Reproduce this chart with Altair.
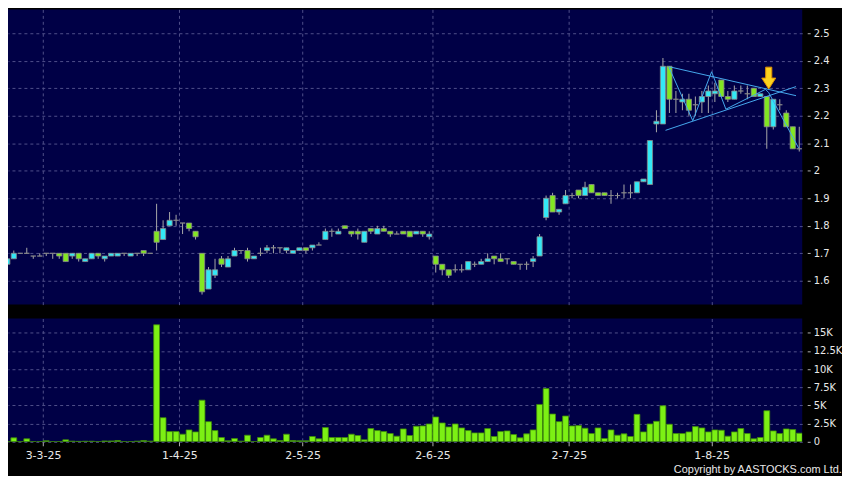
import altair as alt
import pandas as pd

# ---------------- data ----------------
opens = [1.66, 1.68, 1.70, 1.70, 1.69, 1.69, 1.70, 1.70, 1.70, 1.70,
         1.69, 1.70, 1.67, 1.68, 1.70, 1.68, 1.69, 1.69, 1.70, 1.69,
         1.70, 1.71, 1.70, 1.78, 1.75, 1.80, 1.82, 1.81, 1.81, 1.78,
         1.70, 1.57, 1.62, 1.68, 1.65, 1.69, 1.71, 1.71, 1.68, 1.70,
         1.71, 1.72, 1.72, 1.71, 1.70, 1.71, 1.72, 1.72, 1.73, 1.75,
         1.78, 1.77, 1.80, 1.78, 1.78, 1.74, 1.79, 1.77, 1.79, 1.78,
         1.77, 1.78, 1.78, 1.77, 1.78, 1.76, 1.69, 1.66, 1.64, 1.64,
         1.64, 1.64, 1.66, 1.66, 1.67, 1.69, 1.68, 1.68, 1.67, 1.66,
         1.66, 1.67, 1.69, 1.83, 1.91, 1.85, 1.88, 1.91, 1.93, 1.91,
         1.95, 1.92, 1.92, 1.91, 1.91, 1.92, 1.92, 1.92, 1.96, 1.95,
         2.17, 2.17, 2.38, 2.26, 2.25, 2.26, 2.24, 2.25, 2.27, 2.28,
         2.33, 2.27, 2.26, 2.29, 2.28, 2.30, 2.27, 2.27, 2.16, 2.24,
         2.21, 2.16, 2.08]
highs = [1.69, 1.71, 1.70, 1.72, 1.69, 1.70, 1.70, 1.70, 1.70, 1.70,
         1.70, 1.70, 1.68, 1.70, 1.70, 1.69, 1.70, 1.70, 1.70, 1.70,
         1.70, 1.71, 1.70, 1.88, 1.82, 1.85, 1.84, 1.81, 1.81, 1.78,
         1.70, 1.65, 1.68, 1.69, 1.69, 1.72, 1.71, 1.72, 1.69, 1.72,
         1.73, 1.73, 1.72, 1.72, 1.71, 1.72, 1.72, 1.73, 1.74, 1.79,
         1.79, 1.79, 1.80, 1.78, 1.79, 1.78, 1.79, 1.80, 1.80, 1.78,
         1.78, 1.78, 1.78, 1.78, 1.78, 1.78, 1.69, 1.66, 1.64, 1.66,
         1.66, 1.67, 1.67, 1.68, 1.70, 1.69, 1.70, 1.68, 1.67, 1.66,
         1.67, 1.69, 1.77, 1.91, 1.92, 1.86, 1.93, 1.92, 1.93, 1.96,
         1.95, 1.92, 1.92, 1.93, 1.92, 1.95, 1.95, 1.96, 1.97, 2.11,
         2.22, 2.41, 2.38, 2.29, 2.28, 2.28, 2.27, 2.29, 2.31, 2.32,
         2.33, 2.29, 2.31, 2.31, 2.31, 2.30, 2.28, 2.27, 2.26, 2.26,
         2.22, 2.16, 2.16]
lows = [1.66, 1.68, 1.70, 1.70, 1.68, 1.69, 1.69, 1.68, 1.68, 1.67,
        1.68, 1.67, 1.67, 1.68, 1.68, 1.67, 1.69, 1.69, 1.69, 1.69,
        1.69, 1.69, 1.70, 1.71, 1.75, 1.80, 1.80, 1.77, 1.78, 1.75,
        1.55, 1.57, 1.61, 1.65, 1.65, 1.69, 1.70, 1.67, 1.68, 1.69,
        1.70, 1.70, 1.70, 1.70, 1.70, 1.71, 1.70, 1.71, 1.73, 1.75,
        1.76, 1.77, 1.79, 1.76, 1.75, 1.74, 1.77, 1.77, 1.78, 1.76,
        1.77, 1.77, 1.76, 1.77, 1.76, 1.75, 1.63, 1.62, 1.61, 1.63,
        1.63, 1.64, 1.65, 1.66, 1.67, 1.66, 1.67, 1.66, 1.66, 1.64,
        1.64, 1.65, 1.69, 1.82, 1.85, 1.84, 1.88, 1.90, 1.90, 1.91,
        1.92, 1.91, 1.91, 1.88, 1.90, 1.90, 1.90, 1.92, 1.96, 1.95,
        2.14, 2.17, 2.21, 2.21, 2.22, 2.20, 2.20, 2.21, 2.21, 2.25,
        2.27, 2.25, 2.26, 2.28, 2.26, 2.27, 2.27, 2.08, 2.15, 2.22,
        2.16, 2.08, 2.07]
closes = [1.68, 1.70, 1.70, 1.70, 1.69, 1.69, 1.70, 1.70, 1.69, 1.67,
          1.70, 1.68, 1.68, 1.70, 1.69, 1.69, 1.70, 1.70, 1.70, 1.70,
          1.70, 1.70, 1.70, 1.74, 1.79, 1.82, 1.82, 1.81, 1.79, 1.76,
          1.56, 1.64, 1.64, 1.66, 1.68, 1.71, 1.71, 1.68, 1.69, 1.70,
          1.72, 1.72, 1.72, 1.72, 1.71, 1.72, 1.71, 1.73, 1.73, 1.78,
          1.78, 1.78, 1.79, 1.77, 1.77, 1.78, 1.78, 1.79, 1.78, 1.77,
          1.77, 1.77, 1.76, 1.78, 1.77, 1.77, 1.66, 1.64, 1.62, 1.64,
          1.64, 1.67, 1.66, 1.67, 1.68, 1.68, 1.67, 1.68, 1.66, 1.66,
          1.66, 1.68, 1.76, 1.90, 1.85, 1.86, 1.91, 1.91, 1.91, 1.94,
          1.92, 1.91, 1.91, 1.91, 1.91, 1.92, 1.92, 1.96, 1.97, 2.11,
          2.18, 2.38, 2.26, 2.26, 2.26, 2.22, 2.24, 2.27, 2.29, 2.29,
          2.27, 2.26, 2.29, 2.29, 2.28, 2.27, 2.28, 2.16, 2.26, 2.24,
          2.16, 2.08, 2.08]
volumes = [50, 545, 30, 410, 30, 30, 140, 30, 30, 270,
           90, 60, 80, 80, 30, 120, 120, 180, 30, 30,
           90, 180, 90, 16090, 3318, 1409, 1409, 1045, 1636, 1364,
           5727, 2773, 1545, 590, 136, 455, 90, 909, 30, 590,
           909, 410, 180, 1045, 180, 136, 136, 727, 410, 1955,
           590, 590, 590, 1045, 864, 270, 1818, 1545, 1409, 1136,
           773, 1773, 864, 2136, 2182, 2455, 3409, 2591, 2045, 2455,
           1909, 1545, 1227, 1227, 1818, 727, 1409, 1500, 1000, 545,
           1091, 1636, 5136, 7318, 3818, 2773, 3545, 2182, 2227, 1864,
           1136, 1909, 455, 1636, 909, 1091, 727, 3773, 1364, 2455,
           2818, 4955, 2409, 1136, 1136, 1364, 2091, 1909, 1364, 1636,
           1591, 773, 1364, 1818, 1136, 410, 590, 4273, 1500, 1136,
           1773, 1682, 1182]

# month labels and the bar index of the first trading day they mark
tick_labels = ["3-3-25", "1-4-25", "2-5-25", "2-6-25", "2-7-25", "1-8-25"]
tick_bars = [6, 27, 46, 66, 87, 109]

price_ticks = [1.6, 1.7, 1.8, 1.9, 2.0, 2.1, 2.2, 2.3, 2.4, 2.5]
vol_ticks = [0, 2500, 5000, 7500, 10000, 12500, 15000]

# drawn pattern lines (bar index, price) and the marker arrow
line_group = ["upper", "upper", "lower", "lower",
              "zig", "zig", "zig", "zig", "zig", "zig", "zig"]
line_bar = [102.0, 121.5, 101.4, 121.5,
            101.9, 105.6, 108.5, 110.7, 116.8, 117.3, 121.9]
line_price = [2.378, 2.273, 2.147, 2.306,
              2.378, 2.182, 2.360, 2.224, 2.296, 2.284, 2.083]
arrow_bar = [117.3]
arrow_price = [2.337]

# ---------------- styling ----------------
PANEL = "#000046"
CYAN = "#33e8f6"
GREEN = "#82e622"
FLAT = "#9aa0a0"
WICK = "#a8a8a8"
BODY_STROKE = "#8a8a8a"
VOL_FILL = "#7cf014"
VOL_STROKE = "#3e8a0a"
GRID = "#50508a"
TEXT = "#e8e8e8"
FONT = "DejaVu Sans"
LINE = "#46a8ee"

N = len(opens)
df = pd.DataFrame({
    "i": list(range(N)), "o": opens, "h": highs, "l": lows, "c": closes, "v": volumes,
})
df["dir"] = ["up" if c > o else ("down" if c < o else "flat") for o, c in zip(opens, closes)]

lines_df = pd.DataFrame({"g": line_group, "i": line_bar, "p": line_price,
                         "k": list(range(len(line_bar)))})
arrow_df = pd.DataFrame({"i": arrow_bar, "p": arrow_price})

xscale = alt.Scale(domain=[0.107, 122.46], nice=False, zero=False)
pscale = alt.Scale(domain=[1.5134, 2.5867], nice=False, zero=False)
vscale = alt.Scale(domain=[0, 16950], nice=False, zero=False)

grid_vals = [b - 0.5 for b in tick_bars]

x_price_axis = alt.Axis(values=grid_vals, grid=True, labels=False, ticks=False,
                        domain=False, title=None)
y_price_axis = alt.Axis(orient="right", values=price_ticks, grid=True, domain=False,
                        tickSize=3, offset=5, labelPadding=3, title=None,
                        labelExpr="'' + datum.value")

label_expr = ""
for v, t in zip(grid_vals, tick_labels):
    label_expr += f"datum.value == {v} ? '{t}' : "
label_expr += "''"

x_vol_axis = alt.Axis(values=grid_vals, grid=True, domain=False, title=None,
                      tickSize=4, labelPadding=4, labelExpr=label_expr,
                      labelFontSize=11, labelFlush=False)
y_vol_axis = alt.Axis(orient="right", values=vol_ticks, grid=True, domain=False,
                      tickSize=3, offset=5, labelPadding=3, title=None,
                      labelExpr="datum.value == 0 ? '0' : (datum.value / 1000) + 'K'")

base = alt.Chart(df)

wicks = base.mark_rule(color=WICK, strokeWidth=1, clip=True).encode(
    x=alt.X("i:Q", scale=xscale, axis=x_price_axis),
    y=alt.Y("l:Q", scale=pscale, axis=y_price_axis),
    y2="h:Q",
)

bodies = base.transform_calculate(
    x1="datum.i - 0.4", x2="datum.i + 0.4"
).mark_rect(stroke=BODY_STROKE, strokeWidth=0.8, clip=True).encode(
    x=alt.X("x1:Q", scale=xscale, axis=x_price_axis),
    x2="x2:Q",
    y=alt.Y("o:Q", scale=pscale, axis=y_price_axis),
    y2="c:Q",
    fill=alt.Fill("dir:N", scale=alt.Scale(domain=["up", "down", "flat"],
                                           range=[CYAN, GREEN, FLAT]), legend=None),
)

pattern = alt.Chart(lines_df).mark_line(color=LINE, strokeWidth=1, clip=True).encode(
    x=alt.X("i:Q", scale=xscale, axis=x_price_axis),
    y=alt.Y("p:Q", scale=pscale, axis=y_price_axis),
    detail="g:N",
    order="k:Q",
)

ARROW_PATH = "M-0.28,-1 L0.28,-1 L0.28,0 L0.64,0 L0,1 L-0.64,0 L-0.28,0 Z"
arrow = alt.Chart(arrow_df).mark_point(
    shape=ARROW_PATH, size=484, filled=True, fill="#fcd21e", stroke="#e09000",
    strokeWidth=1, opacity=1,
).encode(
    x=alt.X("i:Q", scale=xscale, axis=x_price_axis),
    y=alt.Y("p:Q", scale=pscale, axis=y_price_axis),
)

price = alt.layer(wicks, bodies, pattern, arrow).properties(width=799, height=297)

volume = base.transform_calculate(
    x1="datum.i - 0.45", x2="datum.i + 0.45"
).mark_rect(fill=VOL_FILL, stroke=VOL_STROKE, strokeWidth=0.8, clip=True).encode(
    x=alt.X("x1:Q", scale=xscale, axis=x_vol_axis),
    x2="x2:Q",
    y=alt.Y("v:Q", scale=vscale, axis=y_vol_axis),
    y2=alt.datum(0),
).properties(width=799, height=124)

chart = alt.vconcat(price, volume, spacing=14).properties(
    padding=0,
    title=alt.TitleParams("Copyright by AASTOCKS.com Ltd.", orient="bottom",
                          anchor="end", fontSize=11, font="Liberation Sans",
                          fontWeight="normal", color=TEXT, offset=3),
).configure(background="black").configure_view(
    fill=PANEL, stroke=None
).configure_axis(
    gridColor=GRID, gridDash=[3, 3], gridWidth=1, tickColor="#b0b0b0",
    labelColor=TEXT, labelFont=FONT, labelFontSize=10,
)

chart.save("out.html", embed_options={"renderer": "svg", "actions": False})
